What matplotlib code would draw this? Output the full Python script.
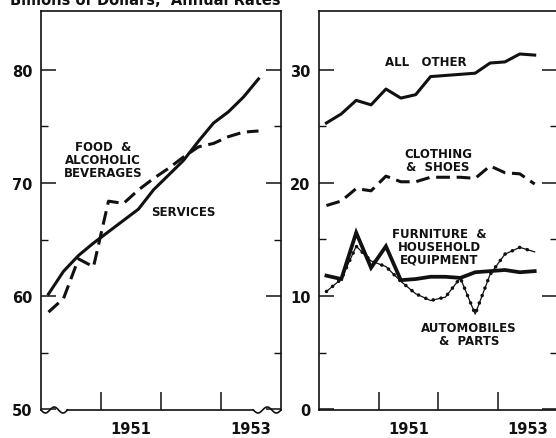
"""Personal consumption expenditures by major type, quarterly 1950-1953.

Two panels: services and food on the left (broken axis from 50),
durable / other goods on the right.
"""
import numpy as np
import matplotlib
matplotlib.use("Agg")
import matplotlib.pyplot as plt
from matplotlib.ticker import FixedLocator

# ── Data (billions of dollars, seasonally adjusted annual rates) ─────────────
quarters = ["1950Q1", "1950Q2", "1950Q3", "1950Q4",
            "1951Q1", "1951Q2", "1951Q3", "1951Q4",
            "1952Q1", "1952Q2", "1952Q3", "1952Q4",
            "1953Q1", "1953Q2", "1953Q3"]

services = [60.2, 62.2, 63.6, 64.7, 65.7, 66.7, 67.7, 69.4,
            70.7, 72.0, 73.7, 75.3, 76.3, 77.6, 79.2]
food = [58.6, 59.8, 63.3, 62.6, 68.4, 68.2, 69.4, 70.4,
        71.3, 72.3, 73.2, 73.5, 74.1, 74.5, 74.6]

all_other = [25.3, 26.1, 27.3, 26.9, 28.3, 27.5, 27.8, 29.4,
             29.5, 29.6, 29.7, 30.6, 30.7, 31.4, 31.3]
clothing = [18.0, 18.4, 19.5, 19.3, 20.6, 20.1, 20.1, 20.5,
            20.5, 20.5, 20.4, 21.5, 20.9, 20.8, 19.9]
furniture = [11.8, 11.5, 15.6, 12.5, 14.4, 11.4, 11.5, 11.7,
             11.7, 11.6, 12.1, 12.2, 12.3, 12.1, 12.2]
autos = [10.4, 11.5, 14.4, 13.1, 12.6, 11.3, 10.2, 9.6,
         9.9, 11.6, 8.4, 11.9, 13.7, 14.3, 13.9]

year_ticks = [1951, 1952, 1953]
year_labels = ["1951", "", "1953"]
left_yticks = [50, 60, 70, 80]
right_yticks = [0, 10, 20, 30]

# quarter midpoints as decimal years
x = np.array([int(q[:4]) + (int(q[-1]) - 0.5) / 4 for q in quarters])

INK = "#111111"
FW = "bold"

fig = plt.figure(figsize=(5.56, 4.39), dpi=100)
ax1 = fig.add_axes([41 / 556, 1 - 411 / 439, 240 / 556, 399 / 439])
ax2 = fig.add_axes([319 / 556, 1 - 411 / 439, 238 / 556, 399 / 439])


def style_axis(ax, ylim, yticks, minor):
    ax.set_xlim(1950, 1954)
    ax.set_ylim(*ylim)
    ax.set_yticks(yticks)
    ax.set_yticklabels([str(v) for v in yticks], fontsize=10.5,
                       fontweight=FW, color=INK)
    ax.yaxis.set_minor_locator(FixedLocator(minor))
    ax.tick_params(axis="y", which="major", direction="in", length=11,
                   width=1.1, left=True, right=True, pad=6, color=INK)
    ax.tick_params(axis="y", which="minor", direction="in", length=5,
                   width=1.0, left=True, right=True, color=INK)
    ax.set_xticks(year_ticks)
    ax.set_xticklabels([])
    ax.tick_params(axis="x", which="major", direction="in", length=13,
                   width=1.1, color=INK)
    ax.xaxis.set_minor_locator(FixedLocator([y + 0.5 for y in year_ticks]))
    ax.set_xticklabels(year_labels, minor=True, fontsize=10.5,
                       fontweight=FW, color=INK)
    ax.tick_params(axis="x", which="minor", length=0, pad=8)
    for s in ax.spines.values():
        s.set_color(INK)
        s.set_linewidth(1.2)


style_axis(ax1, (49.95, 85.2), left_yticks, [55, 65, 75])
style_axis(ax2, (-0.08, 35.2), right_yticks, [5, 15, 25])
ax2.spines["right"].set_visible(False)

# broken bottom axis on the left panel: squiggles at both ends
ax1.spines["bottom"].set_visible(False)
t = np.linspace(0, 1, 60)
wave = -0.0075 * np.sin(t * 3 * np.pi)
ax1.plot(t * 0.11, wave, color=INK, lw=1.2, transform=ax1.transAxes,
         clip_on=False)
ax1.plot(0.885 + t * 0.115, wave, color=INK, lw=1.2,
         transform=ax1.transAxes, clip_on=False)
ax1.plot([0.11, 0.885], [0, 0], color=INK, lw=1.2,
         transform=ax1.transAxes, clip_on=False)

# ── Left panel ───────────────────────────────────────────────────────────────
ax1.plot(x, services, color=INK, lw=2.2, solid_joinstyle="round")
ax1.plot(x, food, color=INK, lw=2.2, dashes=(4.5, 2.2))

lab = dict(fontsize=8.5, fontweight=FW, color=INK, ha="center", va="center",
           linespacing=1.0)
ax1.text(1951.03, 72.1, "FOOD  &\nALCOHOLIC\nBEVERAGES", **lab)
ax1.text(1952.37, 67.5, "SERVICES", **lab)

# ── Right panel ──────────────────────────────────────────────────────────────
ax2.plot(x, all_other, color=INK, lw=2.2, solid_joinstyle="round")
ax2.plot(x, clothing, color=INK, lw=2.2, dashes=(4.5, 2.2))
ax2.plot(x, autos, color=INK, lw=0.9)
ax2.plot(x, autos, color=INK, lw=2.6, linestyle=(0, (0.01, 2.2)),
         dash_capstyle="round")
ax2.plot(x, furniture, color=INK, lw=2.7, solid_joinstyle="miter")

ax2.text(1951.80, 30.7, "ALL   OTHER", **lab)
ax2.text(1952.0, 22.0, "CLOTHING\n&  SHOES", **lab)
ax2.text(1952.02, 14.4, "FURNITURE  &\nHOUSEHOLD\nEQUIPMENT", **lab)
ax2.text(1952.52, 6.6, "AUTOMOBILES\n&  PARTS", **lab)

# unit caption, cropped at the top edge like the scan
fig.text(10 / 556, 1 - 5 / 439, "Billions of Dollars,  Annual Rates",
         fontsize=10.5, fontweight=FW, color=INK, ha="left", va="baseline")

fig.savefig("out.png", dpi=100)
